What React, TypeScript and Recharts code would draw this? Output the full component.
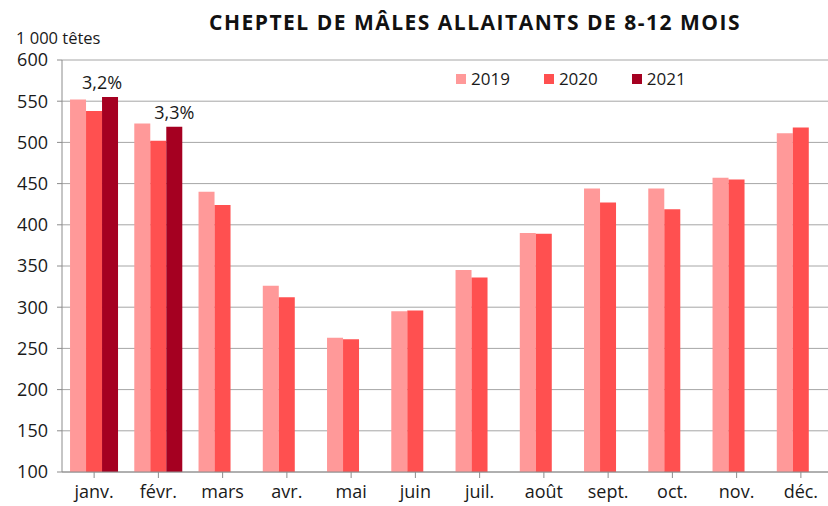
import { Bar, BarChart, CartesianGrid, LabelList, XAxis, YAxis } from 'recharts';

const months = ['janv.', 'févr.', 'mars', 'avr.', 'mai', 'juin', 'juil.', 'août', 'sept.', 'oct.', 'nov.', 'déc.'];
const values2019 = [552, 523, 440, 326, 263, 295, 345, 390, 444, 444, 457, 511];
const values2020 = [538, 502, 424, 312, 261, 296, 336, 389, 427, 419, 455, 518];
const values2021 = [555, 519, null, null, null, null, null, null, null, null, null, null];
const labels2021 = ['3,2%', '3,3%', '', '', '', '', '', '', '', '', '', ''];
const yTicks = [100, 150, 200, 250, 300, 350, 400, 450, 500, 550, 600];

const series = [
  { key: 'v2019', name: '2019', color: '#ff9999' },
  { key: 'v2020', name: '2020', color: '#ff5050' },
  { key: 'v2021', name: '2021', color: '#a50021' },
];

const data = months.map((m, i) => ({
  month: m,
  v2019: values2019[i],
  v2020: values2020[i],
  v2021: values2021[i],
  label: labels2021[i],
}));

const FONT = '"Open Sans", sans-serif';
const INK = '#1a1a1a';

function PctLabel(props: any) {
  const { x, y, width, value, index } = props;
  if (!value) return null;
  // first label sits a bit left of its bar in the original
  const shift = index === 0 ? -8 : 0;
  return (
    <text x={x + width / 2 + shift} y={y - 8} textAnchor="middle" fontSize={18} fill={INK} fontFamily={FONT}>
      {value}
    </text>
  );
}

export default function App() {
  return (
    <div style={{ position: 'absolute', left: 0, top: 0, width: 828, height: 506, overflow: 'hidden', background: '#fff' }}>
      <div
        style={{
          position: 'absolute',
          left: 0,
          width: 950,
          top: 8,
          textAlign: 'center',
          fontFamily: FONT,
          fontWeight: 700,
          fontSize: 21,
          color: '#111',
          letterSpacing: 1.5,
        }}
      >
        CHEPTEL DE MÂLES ALLAITANTS DE 8-12 MOIS
      </div>
      <div style={{ position: 'absolute', left: 16, top: 28, fontFamily: FONT, fontSize: 16.5, color: INK, lineHeight: '20px' }}>
        1 000 têtes
      </div>
      <div
        style={{
          position: 'absolute',
          left: 456,
          top: 67,
          display: 'flex',
          fontFamily: FONT,
          fontSize: 17,
          color: INK,
          zIndex: 2,
        }}
      >
        {series.map((s) => (
          <div key={s.key} style={{ display: 'flex', alignItems: 'center', marginRight: 34 }}>
            <span style={{ width: 10, height: 10, background: s.color, marginRight: 5, display: 'inline-block' }} />
            {s.name}
          </div>
        ))}
      </div>
      <BarChart
        width={833}
        height={506}
        data={data}
        margin={{ top: 60, right: 0, bottom: 0, left: 0 }}
        barCategoryGap="12.5%"
        barGap={0}
      >
        <CartesianGrid vertical={false} stroke="#a6a6a6" />
        <XAxis
          dataKey="month"
          height={34}
          tickSize={6}
          tickMargin={7}
          stroke="#8c8c8c"
          tick={{ fontSize: 18, fill: INK, fontFamily: FONT }}
          interval={0}
        />
        <YAxis
          width={62}
          domain={[100, 600]}
          ticks={yTicks}
          tickSize={5}
          tickMargin={9}
          stroke="#8c8c8c"
          tick={{ fontSize: 18, fill: INK, fontFamily: FONT }}
          interval={0}
        />
        {series.map((s) => (
          <Bar key={s.key} dataKey={s.key} name={s.name} fill={s.color} isAnimationActive={false}>
            {s.key === 'v2021' ? <LabelList dataKey="label" content={PctLabel} /> : null}
          </Bar>
        ))}
      </BarChart>
    </div>
  );
}
